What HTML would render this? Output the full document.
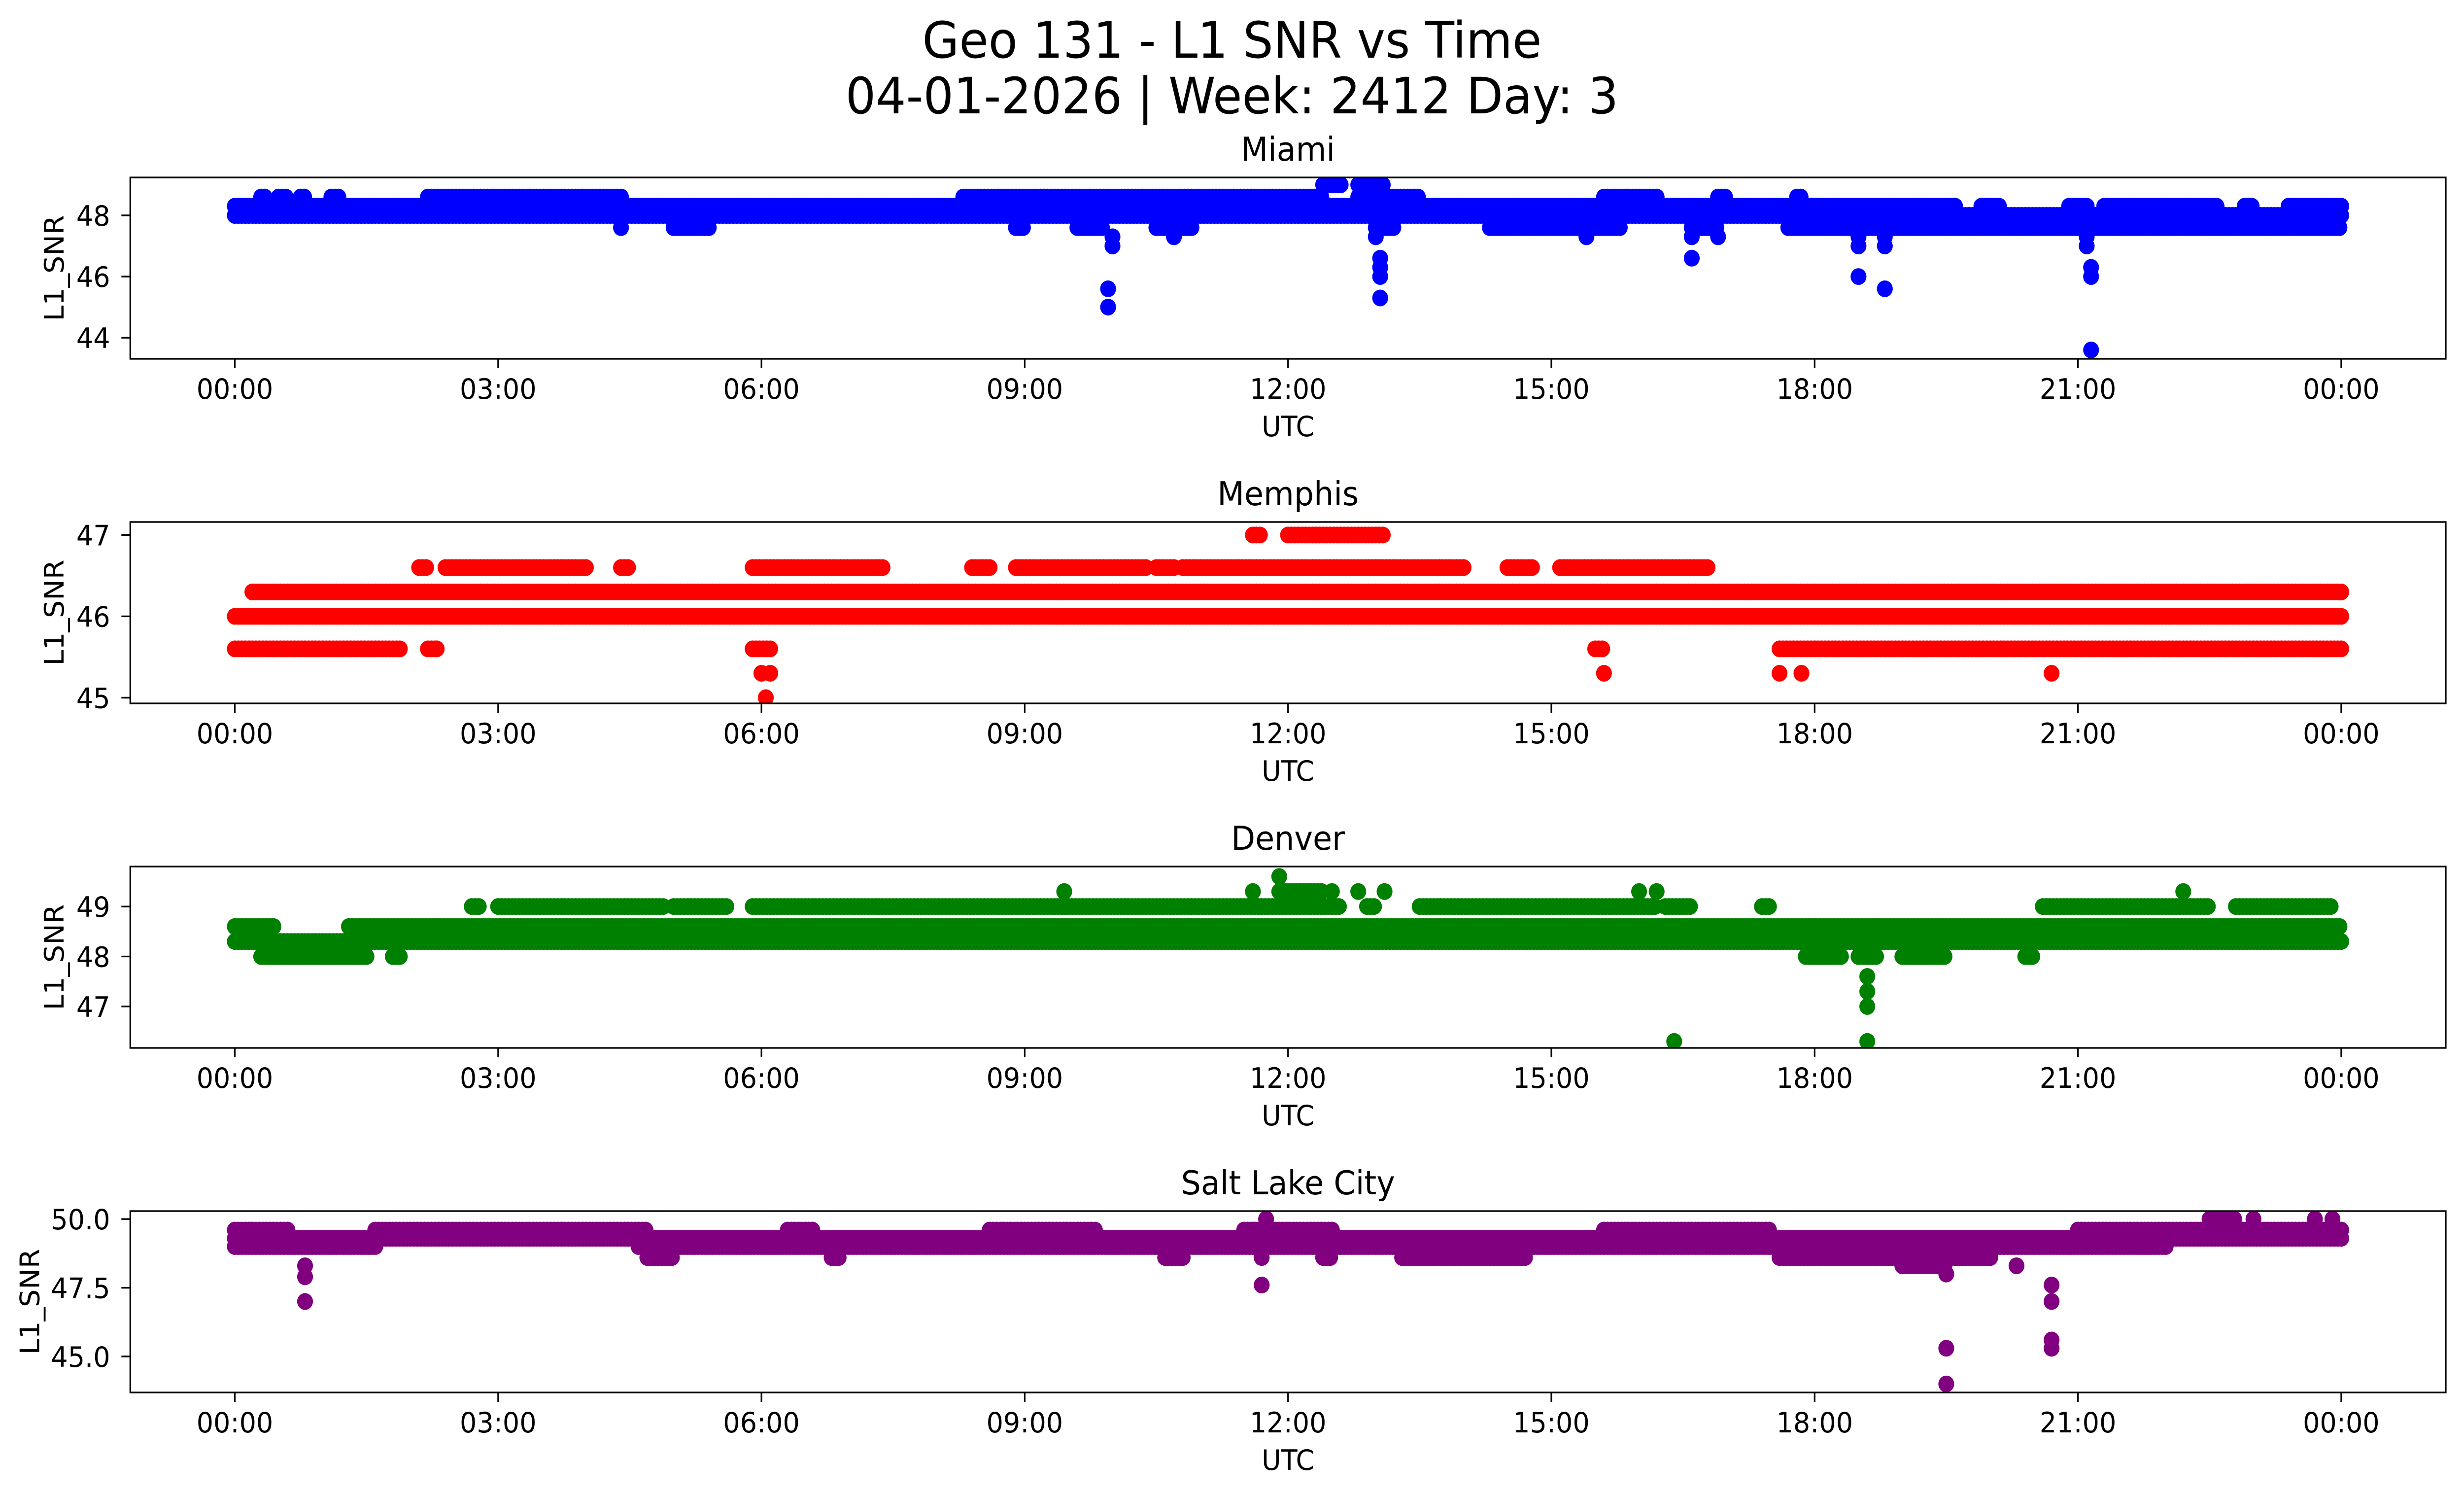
<!DOCTYPE html>
<html><head><meta charset="utf-8"><title>Geo 131 - L1 SNR vs Time</title>
<style>
html,body{margin:0;padding:0;background:#fff;overflow:hidden;width:100%;height:100%}
svg{display:block;width:100vw;height:100vh;position:absolute;left:0;top:0}
text{font-family:"DejaVu Sans","Liberation Sans",sans-serif;fill:#000}
</style>
</head><body>
<svg id="fig" xmlns="http://www.w3.org/2000/svg" viewBox="0 0 5278 3033" preserveAspectRatio="none">
<rect x="0" y="0" width="5278" height="3033" fill="#fff"/>
<text x="2639" y="117" font-size="102" text-anchor="middle">Geo 131 - L1 SNR vs Time</text>
<text x="2639" y="230" font-size="102" text-anchor="middle">04-01-2026 | Week: 2412 Day: 3</text>
</svg>
<script>
// x tick hours and labels
const xTickHours = [0,3,6,9,12,15,18,21,24];
const xTickLabels = ["00:00","03:00","06:00","09:00","12:00","15:00","18:00","21:00","00:00"];
const stationNames = ["Miami","Memphis","Denver","Salt Lake City"];
const stationColors = ["#0000ff","#ff0000","#008000","#800080"];
const yLimits = [[43.31,49.24],[44.93,47.16],[46.17,49.8],[43.69,50.29]];
const yTicks = [[44,46,48],[45,46,47],[47,48,49],[45,47.5,50]];
const yTickLabels = [["44","46","48"],["45","46","47"],["47","48","49"],["45.0","47.5","50.0"]];

// Runs: [startHour, endHour, snrLevel]
const miamiRuns = [[0,19.6,48.3],[0,24,48.0],[19.9,20.1,48.3],[20.9,21.1,48.3],[21.3,22.6,48.3],[22.9,23.0,48.3],[23.4,24,48.3],
 [19.5,24,47.6],[5.0,5.4,47.6],[8.9,9.0,47.6],[9.6,9.9,47.6],[10.5,10.9,47.6],[13.0,13.2,47.6],[14.3,15.8,47.6],[16.6,16.9,47.6],[17.7,19.5,47.6],
 [0.3,0.35,48.6],[0.5,0.6,48.6],[0.75,0.8,48.6],[1.1,1.2,48.6],[2.2,4.4,48.6],[8.3,12.4,48.6],[12.8,13.5,48.6],[15.6,16.2,48.6],[16.9,17.0,48.6],[17.8,17.85,48.6],
 [12.4,12.6,49.0],[12.8,13.1,49.0]];
const miamiPoints = [[9.95,45.6],[9.95,45.0],[10.0,47.0],[10.0,47.3],[13.05,46.6],[13.05,46.3],[13.05,46.0],[13.05,45.3],[13.0,47.3],[16.6,46.6],[16.6,47.3],[16.9,47.3],[18.5,46.0],[18.5,47.0],[18.5,47.3],[18.8,45.6],[18.8,47.0],[18.8,47.3],[21.15,43.6],[21.15,46.3],[21.15,46.0],[21.1,47.0],[21.1,47.3],[10.7,47.3],[4.4,47.6],[15.4,47.3]];

const memphisRuns = [[0.2,24,46.3],[0,24,46.0],[0.0,1.9,45.6],[2.2,2.3,45.6],[5.9,6.1,45.6],[15.5,15.6,45.6],[17.6,24,45.6],
 [2.1,2.2,46.6],[2.4,4.0,46.6],[4.4,4.5,46.6],[5.9,7.4,46.6],[8.4,8.6,46.6],[8.9,10.4,46.6],[10.5,10.7,46.6],[10.8,14.0,46.6],[14.5,14.8,46.6],[15.1,16.8,46.6],
 [11.6,11.7,47.0],[12.0,13.1,47.0]];
const memphisPoints = [[6.0,45.3],[6.1,45.3],[6.05,45.0],[15.6,45.3],[17.6,45.3],[17.85,45.3],[20.7,45.3],[2.3,45.6]];

const denverRuns = [[0,24,48.3],[0,0.45,48.6],[1.3,24,48.6],[0.3,1.5,48.0],[1.8,1.9,48.0],[17.9,18.3,48.0],[18.5,18.7,48.0],[19.0,19.5,48.0],[20.4,20.5,48.0],
 [2.7,2.8,49.0],[3.0,4.9,49.0],[5.0,5.6,49.0],[5.9,12.6,49.0],[12.9,13.0,49.0],[13.5,16.2,49.0],[16.3,16.6,49.0],[17.4,17.5,49.0],[20.6,22.5,49.0],[22.8,23.9,49.0],
 [11.9,12.4,49.3]];
const denverPoints = [[9.45,49.3],[11.6,49.3],[12.5,49.3],[12.8,49.3],[13.1,49.3],[16.0,49.3],[16.2,49.3],[22.2,49.3],[11.9,49.6],[16.4,46.3],[18.6,46.3],[18.6,47.0],[18.6,47.3],[18.6,47.6]];

const slcRuns = [[0,24,49.3],[0,0.6,49.6],[1.6,4.7,49.6],[6.3,6.6,49.6],[8.6,9.8,49.6],[11.5,12.5,49.6],[15.6,17.5,49.6],[21.0,24,49.6],
 [0,1.6,49.0],[4.6,22.0,49.0],[4.7,5.0,48.6],[10.6,10.8,48.6],[13.3,14.7,48.6],[17.6,20.0,48.6],[12.4,12.5,48.6],[6.8,6.9,48.6],[19.0,19.5,48.3],
 [22.5,22.8,50.0]];
const slcPoints = [[11.75,50.0],[23.0,50.0],[23.7,50.0],[23.9,50.0],[0.8,48.3],[0.8,47.9],[0.8,47.0],[11.7,48.6],[11.7,47.6],[19.5,48.0],[19.5,45.3],[19.5,44.0],[20.7,47.6],[20.7,47.0],[20.7,45.6],[20.7,45.3],[20.0,48.6],[20.3,48.3]];

const allRuns = [miamiRuns, memphisRuns, denverRuns, slcRuns];
const allPoints = [miamiPoints, memphisPoints, denverPoints, slcPoints];

const NS = "http://www.w3.org/2000/svg";
const svg = document.getElementById("fig");
const AX_L = 279, AX_R = 5239, AX_H = 368;
const axTops = [360, 1059, 1758, 2457];
const X0 = 503, X24 = 5015;
const STEP = 0.04;
const R = 17;
function xScale(h){ return X0 + (X24 - X0) * h / 24; }
function mk(tag, attrs){ const e = document.createElementNS(NS, tag); for (const k in attrs) e.setAttribute(k, attrs[k]); return e; }

stationNames.forEach((name, i) => {
  const top = axTops[i], bot = top + AX_H;
  const [y0, y1] = yLimits[i];
  const yScale = v => bot - (v - y0) / (y1 - y0) * AX_H;
  const g = mk("g", {});
  
  
  svg.appendChild(g);

  const clipId = "clip" + i;
  const cp = mk("clipPath", {id: clipId});
  cp.appendChild(mk("rect", {x: AX_L, y: top, width: AX_R - AX_L, height: AX_H}));
  g.appendChild(cp);

  const dots = mk("g", {fill: stationColors[i], "clip-path": "url(#" + clipId + ")"});
  
  
  g.appendChild(dots);
  allRuns[i].forEach(run => {
    const [a, b, v] = run;
    const cy = yScale(v).toFixed(1);
    for (let t = a; t <= b + 1e-9; t += STEP) {
      dots.appendChild(mk("circle", {cx: xScale(t).toFixed(1), cy: cy, r: R}));
    }
  });
  allPoints[i].forEach(p => {
    const c = mk("circle", {cx: xScale(p[0]).toFixed(1), cy: yScale(p[1]).toFixed(1), r: R});
    
    
    dots.appendChild(c);
  });

  const frame = mk("rect", {x: AX_L, y: top, width: AX_R - AX_L, height: AX_H, fill: "none", stroke: "#000", "stroke-width": 3.3});
  
  
  g.appendChild(frame);

  xTickHours.forEach((h, k) => {
    const x = xScale(h);
    g.appendChild(mk("line", {x1: x, x2: x, y1: bot, y2: bot + 19, stroke: "#000", "stroke-width": 3.3}));
    const t = mk("text", {x: x, y: bot + 81, "font-size": 57, "text-anchor": "middle"});
    
    
    t.textContent = xTickLabels[k];
    g.appendChild(t);
  });
  yTicks[i].forEach((v, k) => {
    const y = yScale(v);
    g.appendChild(mk("line", {x1: AX_L - 19, x2: AX_L, y1: y, y2: y, stroke: "#000", "stroke-width": 3.3}));
    const t = mk("text", {x: 236, y: y + 21, "font-size": 57, "text-anchor": "end"});
    
    
    t.textContent = yTickLabels[i][k];
    g.appendChild(t);
  });
  const xl = mk("text", {x: (AX_L + AX_R) / 2, y: bot + 157, "font-size": 57, "text-anchor": "middle"});
  
  
  xl.textContent = "UTC";
  g.appendChild(xl);
  const lx = i === 3 ? 65 : 117;
  const yl = mk("text", {x: lx, y: (top + bot) / 2, "font-size": 57, "text-anchor": "middle", "dominant-baseline": "central", transform: "rotate(-90 " + lx + " " + ((top + bot) / 2) + ")"});
  
  
  yl.textContent = "L1_SNR";
  g.appendChild(yl);
  const st = mk("text", {x: (AX_L + AX_R) / 2, y: top - 34, "font-size": 67, "text-anchor": "middle"});
  
  
  st.textContent = name;
  g.appendChild(st);
});
</script>
</body></html>
